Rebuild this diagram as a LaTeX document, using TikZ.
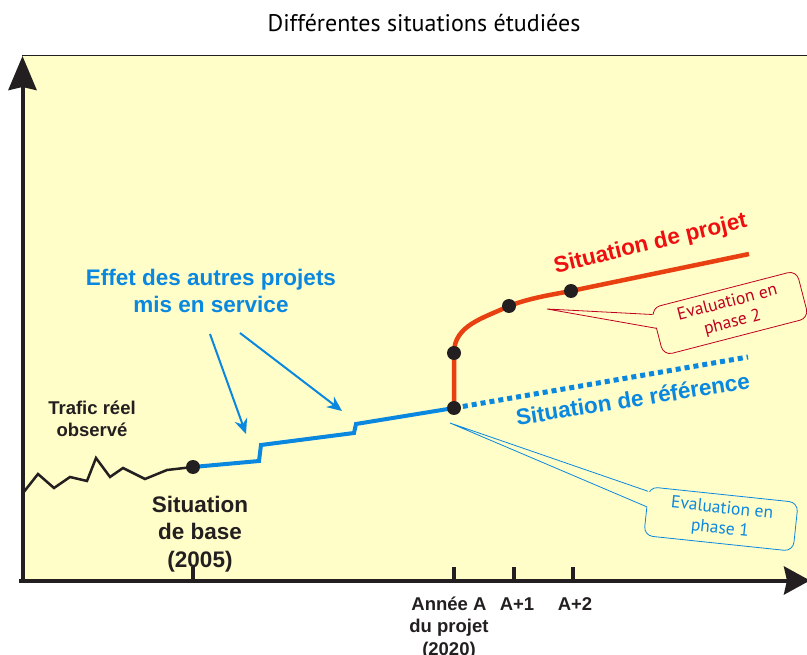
\documentclass[tikz,border=0pt]{standalone}
\usepackage{fontspec}
\setmainfont{Liberation Sans}
\newfontfamily\callfont{PT Sans}
\usetikzlibrary{arrows.meta,positioning,calc}
\definecolor{paleyellow}{RGB}{255,253,200}
\definecolor{refblue}{RGB}{10,136,224}
\definecolor{projred}{RGB}{232,64,16}
\definecolor{labelred}{RGB}{238,16,16}
\definecolor{darkred}{RGB}{192,0,32}
\definecolor{inkblack}{RGB}{35,31,32}

\tikzset{
    axisline/.style={draw=inkblack, line width=4pt},
    dot/.style={circle, fill=inkblack, inner sep=0pt, minimum size=14pt},
    lbl/.style={font=\bfseries\fontsize{18.5}{22.5}\selectfont, text=inkblack, align=center, inner sep=0pt},
    biglbl/.style={font=\bfseries\fontsize{22.5}{27.5}\selectfont, align=center, inner sep=0pt},
    callbox/.style={draw, rounded corners=9pt, fill=paleyellow, minimum width=150pt, minimum height=49pt,
        align=center, inner sep=0pt, line width=0.8pt, font=\callfont\fontsize{17.5}{20.5}\selectfont},
    effarrow/.style={draw=refblue, line width=2pt, -{Stealth[length=15pt,width=13pt]}}
}

\begin{document}
\begin{tikzpicture}[x=1pt,y=-1pt]
    \useasboundingbox (0,0) rectangle (807,655);
    \fill[paleyellow] (22,56) rectangle (807,580);
    \draw[inkblack, line width=1pt] (22,56) -- (807,56);

    \node[font=\callfont\fontsize{24}{28}\selectfont, anchor=base, inner sep=0pt] (title) at (424,32) {Différentes situations étudiées};

    \coordinate (origin) at (22.5,580.5);
    \draw[axisline, -{Stealth[length=34pt,width=28pt,inset=3pt]}] (22.5,582) -- (22.5,56);
    \draw[axisline, -{Stealth[length=26pt,width=28pt,inset=3pt]}] (19,580.5) -- (810,580.5);
    \foreach \tx in {193,454,514,573}
        \draw[axisline, line width=3.5pt] (\tx,580) -- (\tx,567);

    \coordinate (base) at (193,467);
    \coordinate (yearA) at (454,408);
    \coordinate (yearAproj) at (454,353);
    \coordinate (yearA1) at (509,306);
    \coordinate (yearA2) at (571,291);
    \coordinate (projend) at (749,254);
    \coordinate (refend) at (748,357);

    \draw[inkblack, line width=2.5pt, line join=miter] (23,493) -- (38,474) -- (54,488) -- (70,477) -- (87,481)
        -- (96,458) -- (110,477) -- (123,468) -- (145,479) -- (167,470) -- (base);

    \coordinate (stepA1) at (259,461);
    \coordinate (stepA2) at (261,445);
    \coordinate (stepB1) at (354,433);
    \coordinate (stepB2) at (356,424);
    \draw[refblue, line width=4pt] (base) -- (stepA1) -- (stepA2) -- (stepB1) -- (stepB2) -- (yearA);
    \draw[refblue, line width=5pt, dash pattern=on 5pt off 4pt] (yearA) -- (refend);

    \draw[projred, line width=4.5pt] (yearA) -- (yearAproj) .. controls (454,325) and (484,318) .. (yearA1)
        .. controls (530,298) and (550,295) .. (yearA2) -- (projend);

    \foreach \p in {base,yearA,yearAproj,yearA1,yearA2}
        \node[dot] (dot-\p) at (\p) {};

    \node[biglbl, text=labelred, rotate=13.5, anchor=base] (projlbl) at (652,250) {Situation de projet};
    \node[biglbl, text=refblue, rotate=9, anchor=base] (reflbl) at (634,407) {Situation de référence};

    \node[biglbl, text=refblue, anchor=base] (effet) at (211,313) {Effet des autres projets\\mis en service};
    \coordinate (eff1) at (210,334);
    \coordinate (eff2) at (240,333);
    \coordinate (efftip1) at (246,434);
    \coordinate (efftip2) at (342,411);
    \draw[effarrow] (eff1) -- (efftip1);
    \draw[effarrow] (eff2) -- (efftip2);

    \node[lbl, anchor=base] (trafic) at (92,437) {Trafic réel\\observé};
    \node[biglbl, text=inkblack, anchor=base] (baselbl) at (200,567) {Situation\\de base\\(2005)};

    \node[lbl, anchor=base] (anneeA) at (449,655) {Année A\\du projet\\(2020)};
    \node[lbl, anchor=base] (anneeA1) at (517,610) {A+1};
    \node[lbl, anchor=base] (anneeA2) at (575,610) {A+2};

    \node[callbox, draw=darkred, text=darkred, rotate=14.5] (eval2) at (730,313) {Evaluation en\\phase 2};
    \coordinate (tip2) at (547,309);
    \coordinate (b2a) at ($(eval2.north west)!0.28!(eval2.west)$);
    \coordinate (b2b) at ($(eval2.north west)!0.85!(eval2.west)$);
    \fill[paleyellow] (tip2) -- ($(b2a)!2pt!(eval2.center)$) -- ($(b2b)!2pt!(eval2.center)$) -- cycle;
    \draw[darkred, line width=0.8pt] (b2a) -- (tip2) -- (b2b);

    \node[callbox, draw=refblue, text=refblue, rotate=-6] (eval1) at (721,519) {Evaluation en\\phase 1};
    \coordinate (tip1) at (450,423);
    \coordinate (b1a) at ($(eval1.north west)!0.2!(eval1.west)$);
    \coordinate (b1b) at ($(eval1.north west)!0.82!(eval1.west)$);
    \fill[paleyellow] (tip1) -- ($(b1a)!2pt!(eval1.center)$) -- ($(b1b)!2pt!(eval1.center)$) -- cycle;
    \draw[refblue, line width=0.8pt] (b1a) -- (tip1) -- (b1b);
\end{tikzpicture}
\end{document}
